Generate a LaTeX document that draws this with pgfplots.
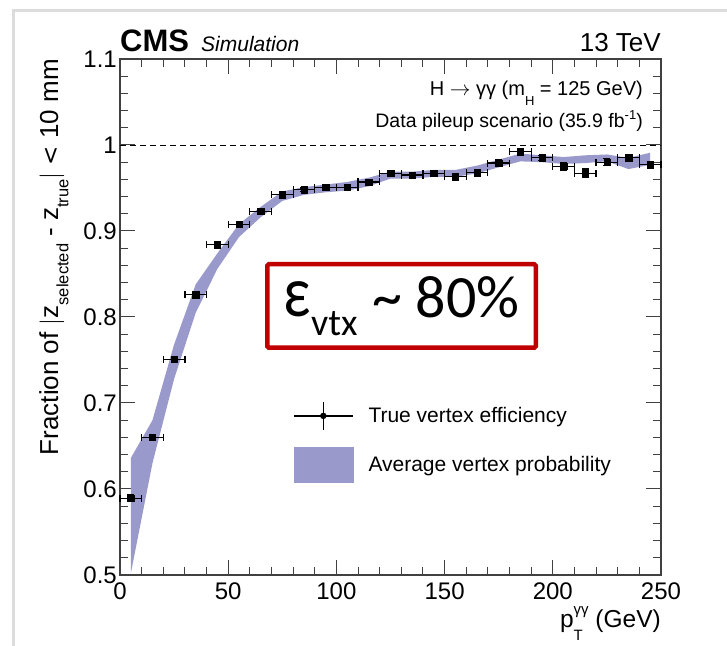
\documentclass[border=0pt]{standalone}
\usepackage{fontspec}
\setmainfont{Liberation Sans}
\newfontfamily\calibri{Carlito}
\usepackage{pgfplots}
\pgfplotsset{compat=1.18}
\usepackage{pgfplotstable}
\usepgfplotslibrary{fillbetween}
\definecolor{bandcol}{RGB}{153,153,204}
\definecolor{boxred}{RGB}{192,0,0}
\definecolor{framegray}{RGB}{220,220,220}
\newcommand\fs[1]{\fontsize{#1bp}{#1bp}\selectfont}

\pgfplotstableread{
x lo hi
5 0.502 0.636
15 0.630 0.680
25 0.728 0.768
35 0.805 0.838
45 0.856 0.874
55 0.893 0.908
65 0.916 0.928
75 0.935 0.946
85 0.942 0.951
95 0.945 0.954
105 0.947 0.957
115 0.952 0.962
125 0.961 0.969
135 0.961 0.969
145 0.963 0.971
155 0.963 0.971
165 0.967 0.976
175 0.974 0.983
185 0.981 0.990
195 0.980 0.988
205 0.978 0.986
215 0.979 0.988
225 0.981 0.989
235 0.972 0.985
245 0.977 0.991
}\bandtable

\pgfplotstableread{
x y ex ey
5 0.589 5 0.004
15 0.660 5 0.003
25 0.751 5 0.003
35 0.826 5 0.003
45 0.884 5 0.003
55 0.908 5 0.003
65 0.923 5 0.003
75 0.942 5 0.003
85 0.948 5 0.002
95 0.951 5 0.002
105 0.951 5 0.003
115 0.957 5 0.003
125 0.967 5 0.003
135 0.965 5 0.003
145 0.967 5 0.003
155 0.963 5 0.003
165 0.968 5 0.003
175 0.979 5 0.004
185 0.992 5 0.004
195 0.985 5 0.003
205 0.975 5 0.004
215 0.967 5 0.005
225 0.980 5 0.004
235 0.985 5 0.003
245 0.977 5 0.004
}\datatable

\begin{document}
\begin{tikzpicture}
\draw[line width=3bp, color=framegray] (13bp,0bp) -- (13bp,635bp) -- (727bp,635bp);
\begin{axis}[
  at={(120bp,71bp)}, anchor=south west,
  scale only axis, width=541bp, height=516bp,
  xmin=0, xmax=250, ymin=0.5, ymax=1.1,
  xtick={0,50,100,150,200,250},
  xticklabels={0,50,100,150,200,250},
  ytick={0.5,0.6,0.7,0.8,0.9,1,1.1},
  yticklabels={0.5,0.6,0.7,0.8,0.9,1,1.1},
  minor x tick num=4, minor y tick num=4,
  tick align=inside, tick pos=both,
  major tick length=15bp, minor tick length=8bp,
  every tick/.style={black!75, line width=1bp},
  axis line style={black!75, line width=1.2bp},
  ticklabel style={font=\fs{24}},
  xticklabel style={inner sep=0pt, yshift=-8bp},
  yticklabel style={inner sep=0pt, xshift=-3bp},
  ylabel={Fraction of $|$z\raisebox{-0.4em}{\fs{16.5}selected} - z\raisebox{-0.4em}{\fs{16.5}true}$|$ {\fontspec{DejaVu Sans}\fs{23}<} 10 mm},
  ylabel style={font=\fs{26}, at={(axis description cs:-0.1146,1)}, anchor=base east, rotate=0, inner sep=0pt},
  xlabel={p\makebox[0pt][l]{\raisebox{-0.5em}{\fs{15}T}}\raisebox{0.55em}{\fs{15}γγ} (GeV)},
  xlabel style={font=\fs{24.5}, at={(axis description cs:1,-0.1027)}, anchor=base east, inner sep=0pt},
  legend style={at={(axis description cs:0.3198,0.3372)}, anchor=north west,
    draw=none, fill=none, inner sep=0pt, row sep=16.5bp,
    font=\fs{21}, cells={anchor=west},
    nodes={inner sep=0pt},
    /tikz/every odd column/.append style={column sep=15bp}},
  clip=false,
]
\addplot[name path=hi, draw=none, forget plot] table[x=x, y=hi] {\bandtable};
\addplot[name path=lo, draw=none, forget plot] table[x=x, y=lo] {\bandtable};
\addplot[fill=bandcol, draw=none, forget plot] fill between[of=hi and lo];
\addplot[forget plot, black, line width=0.8bp, dash pattern=on 6bp off 4bp] coordinates {(0,1) (250,1)};
\addplot[black, only marks, mark=square*, mark size=3.2bp,
  legend image code/.code={
    \draw[black, line width=1.3bp] (0bp,0bp) -- (59bp,0bp);
    \draw[black, line width=1.3bp] (29.5bp,-14bp) -- (29.5bp,14bp);
    \fill[black] (29.5bp,0bp) circle (3bp);},
  error bars/.cd, x dir=both, x explicit, y dir=both, y explicit,
  error bar style={line width=1.2bp, black},
  error mark options={rotate=90, line width=1.2bp, mark size=3.5bp, black},
  ] table[x=x, y=y, x error=ex, y error=ey] {\datatable};
\addlegendentry{True vertex efficiency}
\addlegendimage{legend image code/.code={\fill[bandcol] (0bp,-17.5bp) rectangle (59bp,17.5bp);}}
\addlegendentry{Average vertex probability}
\node[font=\fs{31}\bfseries, anchor=base west, inner sep=0pt] at (axis description cs:0,1.0136) {CMS};
\node[font=\fs{21}\itshape, anchor=base west, inner sep=0pt] at (axis description cs:0.1497,1.0136) {Simulation};
\node[font=\fs{26}, anchor=base east, inner sep=0pt] at (axis description cs:1,1.0136) {13 TeV};
\node[font=\fs{20}, anchor=base east, inner sep=0pt] at (axis description cs:0.9667,0.9283) {H $\rightarrow$ γγ (m\raisebox{-0.5em}{\fs{13}H} = 125 GeV)};
\node[font=\fs{19.5}, anchor=base east, inner sep=0pt] at (axis description cs:0.9667,0.8663) {Data pileup scenario (35.9 fb\raisebox{0.45em}{\fs{13}-1})};
\end{axis}
\node[draw=boxred, line width=4.5bp, rounded corners=1.5bp, minimum width=268.5bp, minimum height=83.5bp, inner sep=0pt, font=\calibri\fs{60}] at (401.5bp,340bp) {\raisebox{-6bp}{\raisebox{0.02em}{\scalebox{1}[1.2]{ε}}\raisebox{-0.3em}{\fs{38}vtx}\hspace{0.25em}\textasciitilde\hspace{0.22em}80\%}};
\pgfresetboundingbox
\useasboundingbox (0,0) rectangle (727bp,646bp);
\end{tikzpicture}
\end{document}
